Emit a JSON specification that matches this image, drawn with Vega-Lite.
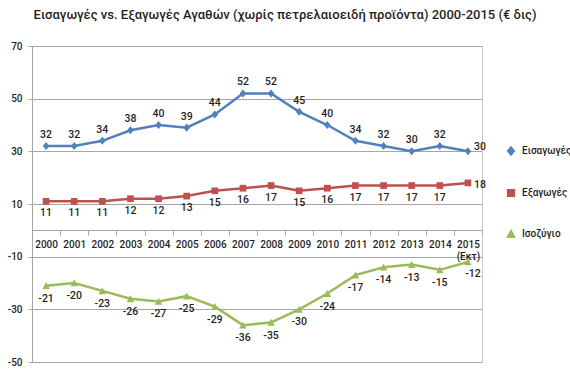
{
  "$schema": "https://vega.github.io/schema/vega-lite/v6.json",
  "width": 450,
  "height": 316,
  "autosize": {"type": "none"},
  "padding": {"left": 32, "top": 46, "right": 88, "bottom": 15},
  "background": "white",
  "title": {
    "text": "Εισαγωγές vs. Εξαγωγές Αγαθών (χωρίς πετρελαιοειδή προϊόντα) 2000-2015 (€ δις)",
    "anchor": "middle",
    "frame": "group",
    "dx": 28,
    "offset": 19,
    "fontSize": 13,
    "font": "Roboto",
    "fontWeight": 500,
    "color": "#1f1f1f"
  },
  "config": {
    "view": {"stroke": "#c8c8c8", "strokeWidth": 1},
    "font": "Roboto",
    "text": {"font": "Roboto", "fontSize": 10.5, "fontWeight": 500, "color": "#1f1f1f"}
  },
  "data": {
    "values": [
      {"year": "2000", "series": "Εισαγωγές", "value": 32},
      {"year": "2001", "series": "Εισαγωγές", "value": 32},
      {"year": "2002", "series": "Εισαγωγές", "value": 34},
      {"year": "2003", "series": "Εισαγωγές", "value": 38},
      {"year": "2004", "series": "Εισαγωγές", "value": 40},
      {"year": "2005", "series": "Εισαγωγές", "value": 39},
      {"year": "2006", "series": "Εισαγωγές", "value": 44},
      {"year": "2007", "series": "Εισαγωγές", "value": 52},
      {"year": "2008", "series": "Εισαγωγές", "value": 52},
      {"year": "2009", "series": "Εισαγωγές", "value": 45},
      {"year": "2010", "series": "Εισαγωγές", "value": 40},
      {"year": "2011", "series": "Εισαγωγές", "value": 34},
      {"year": "2012", "series": "Εισαγωγές", "value": 32},
      {"year": "2013", "series": "Εισαγωγές", "value": 30},
      {"year": "2014", "series": "Εισαγωγές", "value": 32},
      {"year": "2015", "series": "Εισαγωγές", "value": 30},
      {"year": "2000", "series": "Εξαγωγές", "value": 11},
      {"year": "2001", "series": "Εξαγωγές", "value": 11},
      {"year": "2002", "series": "Εξαγωγές", "value": 11},
      {"year": "2003", "series": "Εξαγωγές", "value": 12},
      {"year": "2004", "series": "Εξαγωγές", "value": 12},
      {"year": "2005", "series": "Εξαγωγές", "value": 13},
      {"year": "2006", "series": "Εξαγωγές", "value": 15},
      {"year": "2007", "series": "Εξαγωγές", "value": 16},
      {"year": "2008", "series": "Εξαγωγές", "value": 17},
      {"year": "2009", "series": "Εξαγωγές", "value": 15},
      {"year": "2010", "series": "Εξαγωγές", "value": 16},
      {"year": "2011", "series": "Εξαγωγές", "value": 17},
      {"year": "2012", "series": "Εξαγωγές", "value": 17},
      {"year": "2013", "series": "Εξαγωγές", "value": 17},
      {"year": "2014", "series": "Εξαγωγές", "value": 17},
      {"year": "2015", "series": "Εξαγωγές", "value": 18},
      {"year": "2000", "series": "Ισοζύγιο", "value": -21},
      {"year": "2001", "series": "Ισοζύγιο", "value": -20},
      {"year": "2002", "series": "Ισοζύγιο", "value": -23},
      {"year": "2003", "series": "Ισοζύγιο", "value": -26},
      {"year": "2004", "series": "Ισοζύγιο", "value": -27},
      {"year": "2005", "series": "Ισοζύγιο", "value": -25},
      {"year": "2006", "series": "Ισοζύγιο", "value": -29},
      {"year": "2007", "series": "Ισοζύγιο", "value": -36},
      {"year": "2008", "series": "Ισοζύγιο", "value": -35},
      {"year": "2009", "series": "Ισοζύγιο", "value": -30},
      {"year": "2010", "series": "Ισοζύγιο", "value": -24},
      {"year": "2011", "series": "Ισοζύγιο", "value": -17},
      {"year": "2012", "series": "Ισοζύγιο", "value": -14},
      {"year": "2013", "series": "Ισοζύγιο", "value": -13},
      {"year": "2014", "series": "Ισοζύγιο", "value": -15},
      {"year": "2015", "series": "Ισοζύγιο", "value": -12}
    ]
  },
  "encoding": {
    "x": {
      "field": "year",
      "type": "ordinal",
      "bandPosition": 0.5,
      "scale": {"type": "band", "paddingInner": 0, "paddingOuter": 0},
      "axis": {
        "title": null,
        "offset": -132,
        "labelAngle": 0,
        "domainColor": "#a6a6a6",
        "tickColor": "#a6a6a6",
        "tickBand": "extent",
        "tickSize": 5,
        "labelPadding": 4,
        "labelFontSize": 10,
        "labelFontWeight": 500,
        "labelColor": "#1f1f1f",
        "labelExpr": "datum.value == '2015' ? ['2015', '(Εκτ)'] : datum.value",
        "grid": false
      }
    },
    "y": {
      "field": "value",
      "type": "quantitative",
      "scale": {"domain": [-50, 70], "nice": false, "zero": false},
      "axis": {
        "title": null,
        "values": [70, 50, 30, 10, -10, -30, -50],
        "labelExpr": "'' + datum.value",
        "gridColor": "#a6a6a6",
        "domainColor": "#a6a6a6",
        "tickColor": "#a6a6a6",
        "tickSize": 4,
        "labelFontSize": 10,
        "labelFontWeight": 500,
        "labelColor": "#1f1f1f",
        "labelPadding": 6
      }
    },
    "color": {
      "field": "series",
      "type": "nominal",
      "scale": {"domain": ["Εισαγωγές", "Εξαγωγές", "Ισοζύγιο"], "range": ["#4f81bd", "#c0504d", "#9bbb59"]},
      "legend": {
        "title": null,
        "orient": "none",
        "legendX": 474,
        "legendY": 100,
        "rowPadding": 27,
        "labelFontSize": 10,
        "labelFontWeight": 500,
        "labelColor": "#1f1f1f",
        "symbolSize": 45,
        "labelOffset": 6
      }
    }
  },
  "layer": [
    {
      "mark": {"type": "line", "strokeWidth": 2.5}
    },
    {
      "mark": {"type": "point", "filled": true, "size": 45, "opacity": 1},
      "encoding": {
        "shape": {
          "field": "series",
          "type": "nominal",
          "legend": null,
          "scale": {"domain": ["Εισαγωγές", "Εξαγωγές", "Ισοζύγιο"], "range": ["M0,-1.2L1,0L0,1.2L-1,0Z", "M-1,-1H1V1H-1Z", "M0,-1.1L1.1,1H-1.1Z"]}
        }
      }
    },
    {
      "transform": [{"filter": "datum.series == 'Εισαγωγές' && datum.year != '2015'"}],
      "mark": {"type": "text", "dy": -11},
      "encoding": {"text": {"field": "value", "type": "nominal"}, "color": {"value": "#1f1f1f"}}
    },
    {
      "transform": [{"filter": "datum.series == 'Εισαγωγές' && datum.year == '2015'"}],
      "mark": {"type": "text", "dx": 12, "dy": -4},
      "encoding": {"text": {"field": "value", "type": "nominal"}, "color": {"value": "#1f1f1f"}}
    },
    {
      "transform": [{"filter": "datum.series == 'Εξαγωγές' && datum.year != '2015'"}],
      "mark": {"type": "text", "dy": 12},
      "encoding": {"text": {"field": "value", "type": "nominal"}, "color": {"value": "#1f1f1f"}}
    },
    {
      "transform": [{"filter": "datum.series == 'Εξαγωγές' && datum.year == '2015'"}],
      "mark": {"type": "text", "dx": 12, "dy": 2},
      "encoding": {"text": {"field": "value", "type": "nominal"}, "color": {"value": "#1f1f1f"}}
    },
    {
      "transform": [{"filter": "datum.series == 'Ισοζύγιο' && datum.year != '2015'"}],
      "mark": {"type": "text", "dy": 13},
      "encoding": {"text": {"field": "value", "type": "nominal"}, "color": {"value": "#1f1f1f"}}
    },
    {
      "transform": [{"filter": "datum.series == 'Ισοζύγιο' && datum.year == '2015'"}],
      "mark": {"type": "text", "dx": 5, "dy": 12},
      "encoding": {"text": {"field": "value", "type": "nominal"}, "color": {"value": "#1f1f1f"}}
    }
  ]
}
